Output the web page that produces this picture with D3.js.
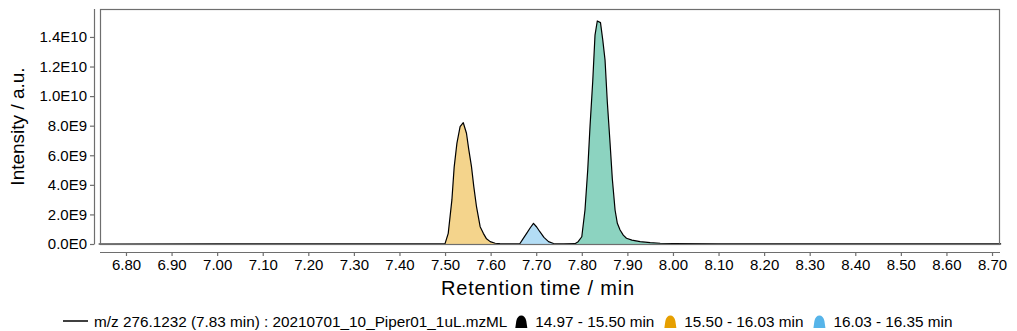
<!DOCTYPE html>
<html>
<head>
<meta charset="utf-8">
<script src="https://cdn.jsdelivr.net/npm/d3@7/dist/d3.min.js"></script>
<style>
  html, body { margin: 0; padding: 0; background: #fff; }
  svg { display: block; font-family: "Liberation Sans", Arial, sans-serif; }
</style>
</head>
<body>
<svg id="chart" width="1017" height="331"></svg>
<script>
// Extracted ion chromatogram: retention time (min) and intensity (a.u.)
const rtMin = [6.74, 7.00, 7.30, 7.49, 7.500, 7.507, 7.515, 7.520, 7.526, 7.533, 7.540, 7.547, 7.552, 7.558, 7.563, 7.569, 7.577, 7.584, 7.591, 7.599, 7.610, 7.620, 7.650,
  7.664, 7.671, 7.679, 7.687, 7.694, 7.701, 7.708, 7.717, 7.727, 7.738, 7.760,
  7.785, 7.792, 7.800, 7.807, 7.813, 7.818, 7.824, 7.829, 7.834, 7.841, 7.846, 7.851, 7.856, 7.862, 7.867, 7.873, 7.878, 7.884, 7.891, 7.898, 7.910, 7.928, 7.950, 7.972,
  8.00, 8.10, 8.30, 8.72];
const intensity = [0, 2e6, 3e6, 5e6, 3e7, 7.2e8, 2.98e9, 5.2e9, 6.8e9, 7.93e9, 8.2e9, 7.49e9, 6.4e9, 5.23e9, 3.9e9, 2.52e9, 1.17e9, 7.2e8, 3.5e8, 1.6e8, 5e7, 2e7, 1e7,
  2e7, 3.5e8, 7.2e8, 1.1e9, 1.4e9, 1.15e9, 8.3e8, 4.5e8, 1.6e8, 3e7, 1e7,
  2e7, 1.56e8, 4.9e8, 2.3e9, 5.0e9, 7.93e9, 1.1e10, 1.413e10, 1.508e10, 1.497e10, 1.38e10, 1.244e10, 9.6e9, 6.83e9, 4.4e9, 2.3e9, 1.4e9, 9.5e8, 6e8, 3.9e8, 2.6e8, 1.6e8, 9e7, 5e7,
  3.5e7, 1.5e7, 8e6, 3e6];

// Integrated peak windows (min) and their fills
const peakStart = [7.785, 7.495, 7.655];
const peakEnd   = [8.000, 7.625, 7.745];
const peakFill  = ["#009E73", "#E69F00", "#56B4E9"];

// Legend entries
const traceLabel = "m/z 276.1232 (7.83 min) : 20210701_10_Piper01_1uL.mzML";
const rangeLabels = ["14.97 - 15.50 min", "15.50 - 16.03 min", "16.03 - 16.35 min"];
const rangeColors = ["#000000", "#E69F00", "#56B4E9"];

// Axis ticks
const xTicks = [6.80, 6.90, 7.00, 7.10, 7.20, 7.30, 7.40, 7.50, 7.60, 7.70, 7.80, 7.90, 8.00, 8.10, 8.20, 8.30, 8.40, 8.50, 8.60, 8.70];
const yTicks = [0, 2e9, 4e9, 6e9, 8e9, 1e10, 1.2e10, 1.4e10];
const yTickLabels = ["0.0E0", "2.0E9", "4.0E9", "6.0E9", "8.0E9", "1.0E10", "1.2E10", "1.4E10"];

const trace = rtMin.map((t, i) => ({ t, v: intensity[i] }));

const svg = d3.select("#chart");
const panel = { left: 100, right: 1000, top: 9, bottom: 244 };

const x = d3.scaleLinear().domain([6.743, 8.7175]).range([panel.left, panel.right]);
const y = d3.scaleLinear().domain([0, 1.589e10]).range([panel.bottom, panel.top]);

const axisGrey = "#6e6e6e";

// filled peak areas
const area = d3.area().x(d => x(d.t)).y0(y(0)).y1(d => y(d.v));
peakStart.forEach((s, i) => {
  const seg = trace.filter(d => d.t >= s && d.t <= peakEnd[i]);
  svg.append("path")
    .datum(seg)
    .attr("d", area)
    .attr("fill", peakFill[i])
    .attr("fill-opacity", 0.45);
});

// chromatogram trace
svg.append("path")
  .datum(trace)
  .attr("d", d3.line().x(d => x(d.t)).y(d => y(d.v)))
  .attr("fill", "none")
  .attr("stroke", "#000")
  .attr("stroke-width", 1.2)
  .attr("stroke-linejoin", "round");

// panel border
svg.append("rect")
  .attr("x", panel.left + 0.5).attr("y", panel.top + 0.5)
  .attr("width", panel.right - panel.left - 1).attr("height", panel.bottom - panel.top)
  .attr("fill", "none").attr("stroke", axisGrey).attr("stroke-width", 1.2);

// y axis, offset from the panel
const yAxis = svg.append("g")
  .attr("transform", `translate(94,0)`)
  .call(d3.axisLeft(y).tickValues(yTicks).tickFormat((d, i) => yTickLabels[i]).tickSize(4).tickPadding(3));
yAxis.select(".domain").attr("d", `M0.5,${panel.top}V${panel.bottom + 0.5}`).attr("stroke", axisGrey).attr("stroke-width", 1.2);
yAxis.selectAll(".tick line").attr("stroke", axisGrey).attr("stroke-width", 1.2);
yAxis.selectAll(".tick text").attr("font-size", 15).attr("fill", "#000").attr("font-family", "Liberation Sans, Arial, sans-serif");

// x axis, offset below the panel
const xAxis = svg.append("g")
  .attr("transform", `translate(0,252)`)
  .call(d3.axisBottom(x).tickValues(xTicks).tickFormat(d3.format(".2f")).tickSize(4).tickPadding(3));
xAxis.select(".domain").attr("d", `M${panel.left},0.5H${panel.right}`).attr("stroke", axisGrey).attr("stroke-width", 1.2);
xAxis.selectAll(".tick line").attr("stroke", axisGrey).attr("stroke-width", 1.2);
xAxis.selectAll(".tick text").attr("font-size", 15).attr("fill", "#000").attr("font-family", "Liberation Sans, Arial, sans-serif");

// axis titles
svg.append("text")
  .attr("x", 538).attr("y", 295)
  .attr("text-anchor", "middle").attr("font-size", 20).attr("letter-spacing", 0.8).attr("fill", "#000")
  .text("Retention time / min");

svg.append("text")
  .attr("transform", `translate(24,${(panel.top + panel.bottom) / 2}) rotate(-90)`)
  .attr("text-anchor", "middle").attr("font-size", 19).attr("fill", "#000")
  .text("Intensity / a.u.");

// legend
const legend = svg.append("g").attr("transform", "translate(0,321)");
const bell = "M0,7 L1,0 C2,-7.5 10,-7.5 11,0 L12,7 Z";
let cx = 63;
legend.append("line").attr("x1", cx).attr("x2", cx + 25).attr("y1", 0).attr("y2", 0)
  .attr("stroke", "#000").attr("stroke-width", 1.5);
cx += 31;
const t0 = legend.append("text").attr("x", cx).attr("y", 5.5).attr("font-size", 15.3).attr("fill", "#000").text(traceLabel);
cx += t0.node().getComputedTextLength() + 8;
rangeLabels.forEach((lab, i) => {
  legend.append("path").attr("d", bell).attr("transform", `translate(${cx},0)`).attr("fill", rangeColors[i]);
  const tt = legend.append("text").attr("x", cx + 20).attr("y", 5.5).attr("font-size", 15.3).attr("fill", "#000").text(lab);
  cx += 20 + tt.node().getComputedTextLength() + 10;
});
</script>
</body>
</html>
